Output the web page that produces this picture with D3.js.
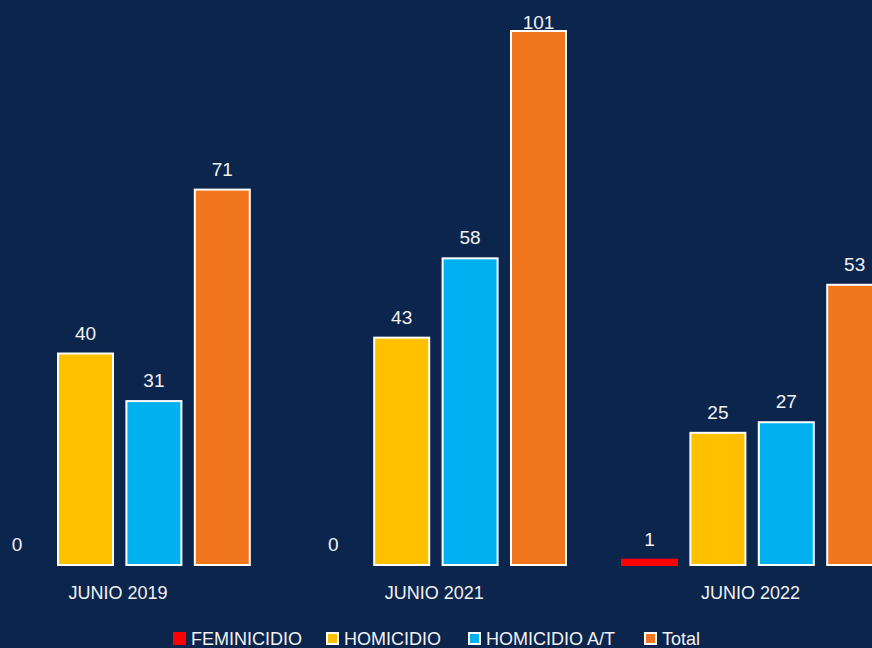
<!DOCTYPE html>
<html>
<head>
<meta charset="utf-8">
<script src="https://cdn.jsdelivr.net/npm/d3@7"></script>
<style>
  html, body { margin: 0; padding: 0; background: #0c254d; }
  svg { display: block; }
  text { font-family: "Liberation Sans", "Open Sans", sans-serif; fill: #f2f2f2; }
</style>
</head>
<body>
<svg id="chart" width="872" height="648"></svg>
<script>
const categories = ["JUNIO 2019", "JUNIO 2021", "JUNIO 2022"];
const seriesNames = ["FEMINICIDIO", "HOMICIDIO", "HOMICIDIO A/T", "Total"];
const feminicidio = [0, 0, 1];
const homicidio = [40, 43, 25];
const homicidioAT = [31, 58, 27];
const total = [71, 101, 53];
const seriesColors = ["#ff0000", "#ffc000", "#00b0f0", "#f2761d"];

const seriesValues = [feminicidio, homicidio, homicidioAT, total];
const data = categories.map((c, i) => ({
  cat: c,
  vals: seriesNames.map((s, j) => ({ key: s, value: seriesValues[j][i], idx: j }))
}));

const svg = d3.select("#chart");
svg.append("rect").attr("width", 872).attr("height", 648).attr("fill", "#0c254d");

const x0 = d3.scaleBand().domain(categories).range([-40, 908.6]).padding(0);
const x1 = d3.scaleBand().domain(seriesNames).range([29.6, 289.8]).paddingInner(0.196).paddingOuter(0);
const y = d3.scaleLinear().domain([0, 101]).range([565, 31]);
const color = d3.scaleOrdinal().domain(seriesNames).range(seriesColors);

const groups = svg.append("g").selectAll("g").data(data).join("g")
  .attr("transform", d => `translate(${x0(d.cat)},0)`);

groups.selectAll("rect").data(d => d.vals).join("rect")
  .attr("x", d => x1(d.key))
  .attr("y", d => y(d.value))
  .attr("width", x1.bandwidth())
  .attr("height", d => y(0) - y(d.value))
  .attr("fill", d => color(d.key))
  .attr("stroke", d => d.idx === 0 ? color(d.key) : "#ffffff")
  .attr("stroke-width", 2);

groups.selectAll("text.val").data(d => d.vals).join("text")
  .attr("class", "val")
  .attr("x", d => x1(d.key) + x1.bandwidth() / 2)
  .attr("y", d => Math.max(y(d.value) - 14, 29))
  .attr("text-anchor", "middle")
  .attr("font-size", 19)
  .text(d => d.value);

// category axis labels
const xAxis = d3.axisBottom(x0).tickSize(0).tickPadding(0);
const ax = svg.append("g").attr("transform", "translate(0,599)").call(xAxis);
ax.select(".domain").remove();
ax.selectAll("text").attr("font-size", 18).attr("fill", "#f2f2f2").attr("dy", "0")
  .attr("y", 0)
  .style("font-family", "'Liberation Sans', 'Open Sans', sans-serif");

// legend
const legendX = [173, 326, 468, 644];
const legend = svg.append("g").selectAll("g").data(seriesNames).join("g")
  .attr("transform", (d, i) => `translate(${legendX[i]},632)`);
legend.append("rect")
  .attr("x", 1)
  .attr("y", 1)
  .attr("width", 11)
  .attr("height", 11)
  .attr("fill", d => color(d))
  .attr("stroke", (d, i) => i === 0 ? color(d) : "#ffffff")
  .attr("stroke-width", 2);
legend.append("text")
  .attr("x", 18)
  .attr("y", 12.5)
  .attr("font-size", 18)
  .text(d => d);
</script>
</body>
</html>
